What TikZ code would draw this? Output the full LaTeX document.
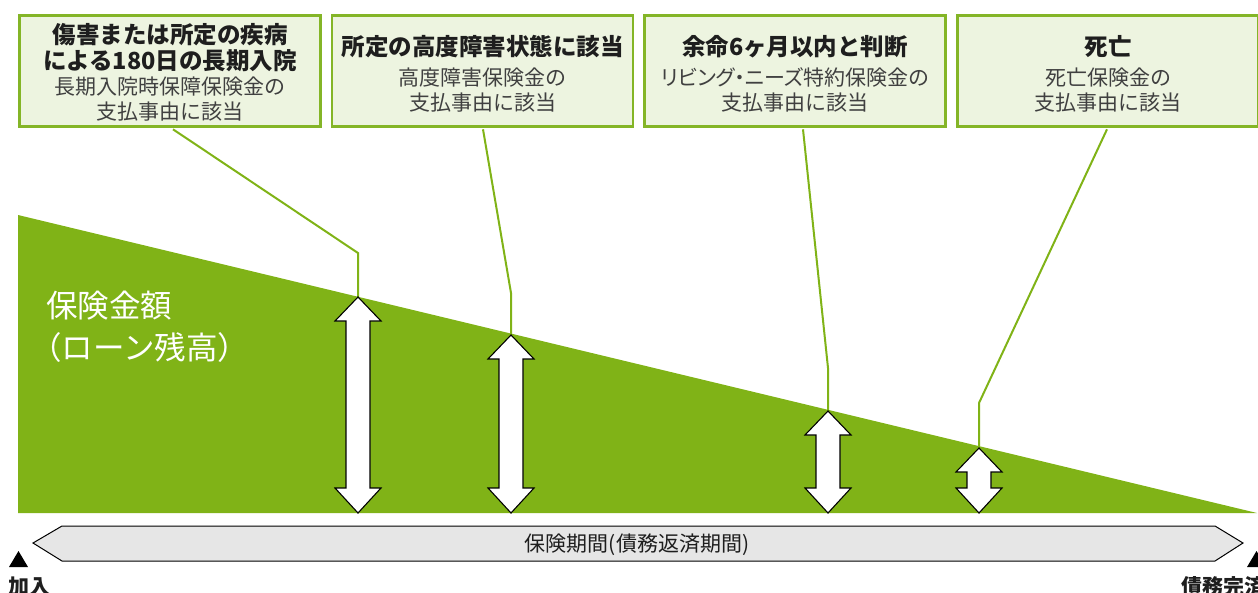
\documentclass[tikz,border=0pt]{standalone}
\usepackage{fontspec}
\setmainfont{Noto Sans CJK JP}
\definecolor{grn}{HTML}{80B317}
\definecolor{boxline}{HTML}{84B527}
\definecolor{boxfill}{HTML}{EDF4E0}
\definecolor{bargray}{HTML}{E6E6E6}
\definecolor{txt}{HTML}{1E1E1E}
\newcommand\dblarr[3]{%
  \draw[fill=white, line width=1.1pt, line join=miter]
    (#1,#2) -- ({#1+23},{#2+24}) -- ({#1+12},{#2+24}) -- ({#1+12},{#3-25})
    -- ({#1+23},{#3-25}) -- (#1,#3) -- ({#1-23},{#3-25}) -- ({#1-12},{#3-25})
    -- ({#1-12},{#2+24}) -- ({#1-23},{#2+24}) -- cycle;}
\tikzset{
  evbox/.style={draw=boxline, line width=2.8pt, fill=boxfill, minimum width=301pt, minimum height=111pt, inner sep=0pt},
  head/.style={anchor=base, inner sep=0pt, text=txt, font=\bfseries\fontsize{23.5}{23.5}\selectfont},
  body/.style={anchor=base, inner sep=0pt, text=txt!85, font=\fontsize{21}{21}\selectfont},
  conn/.style={draw=grn, line width=2pt, line join=miter},
  biglabel/.style={anchor=base west, inner sep=0pt, text=white, font=\fontsize{31.5}{31.5}\selectfont},
}
\begin{document}
\begin{tikzpicture}[x=1pt,y=-1pt]
\useasboundingbox (0,0) rectangle (1258,592);
\clip (0,0) rectangle (1258,592);
% green area
\fill[grn] (18,215) -- (18,513) -- (1257,513) -- cycle;
\node[biglabel] (lab1) at (46,317) {保険金額};
\node[biglabel] (lab2) at (30,359) {（ローン残高）};
% boxes
\node[evbox] (b1) at (170,71) {};
\node[evbox] (b2) at (482.5,71) {};
\node[evbox] (b3) at (795,71) {};
\node[evbox] (b4) at (1108,71) {};
\node[head] (t1a) at (170,43) {傷害または所定の疾病};
\node[head] (t1b) at (170,69) {による180日の長期入院};
\node[body] (t1c) at (170,94) {長期入院時保障保険金の};
\node[body] (t1d) at (170,119) {支払事由に該当};
\node[head] (t2a) at (482.5,55) {所定の高度障害状態に該当};
\node[body] (t2b) at (482.5,85) {高度障害保険金の};
\node[body] (t2c) at (482.5,110) {支払事由に該当};
\node[head] (t3a) at (795,55) {余命6ヶ月以内と判断};
\node[body] (t3b) at (795,85) {\addfontfeatures{RawFeature=+palt}リビング・ニーズ特約保険金の};
\node[body] (t3c) at (795,110) {支払事由に該当};
\node[head] (t4a) at (1108,55) {死亡};
\node[body] (t4b) at (1108,85) {死亡保険金の};
\node[body] (t4c) at (1108,110) {支払事由に該当};
% arrow tips and bends
\coordinate (a1) at (358,297);
\coordinate (a2) at (511,335);
\coordinate (a3) at (828,411);
\coordinate (a4) at (979,448);
\coordinate (c1) at (358,253);
\coordinate (c2) at (511,293);
\coordinate (c3) at (828,368);
\coordinate (c4) at (979,403);
\draw[conn] ([xshift=3pt,yshift=-1.4pt]b1.south) -- (c1) -- (a1);
\draw[conn] ([xshift=0.5pt,yshift=-1.4pt]b2.south) -- (c2) -- (a2);
\draw[conn] ([xshift=8pt,yshift=-1.4pt]b3.south) -- (c3) -- (a3);
\draw[conn] ([xshift=-1pt,yshift=-1.4pt]b4.south) -- (c4) -- (a4);
% double arrows
\dblarr{358}{297}{513}
\dblarr{511}{335}{513}
\dblarr{828}{411}{513}
\dblarr{979}{448}{513}
% period bar
\draw[fill=bargray, line width=1pt] (33,543) -- (62,526) -- (1215,526) -- (1243,543) -- (1215,561) -- (62,561) -- cycle;
\node[anchor=base, inner sep=0pt, text=txt, font=\fontsize{21}{21}\selectfont] (bar) at (637,551) {保険期間(債務返済期間)};
% markers
\fill[black] (9,567) -- (28,567) -- (18.5,551) -- cycle;
\fill[black] (1247,567) -- (1266,567) -- (1256.5,551) -- cycle;
\node[anchor=base west, inner sep=0pt, text=txt, font=\bfseries\fontsize{21}{21}\selectfont] (start) at (8,594) {加入};
\node[anchor=base west, inner sep=0pt, text=txt, font=\bfseries\fontsize{21}{21}\selectfont] (end) at (1181,594) {債務完済};
\end{tikzpicture}
\end{document}
